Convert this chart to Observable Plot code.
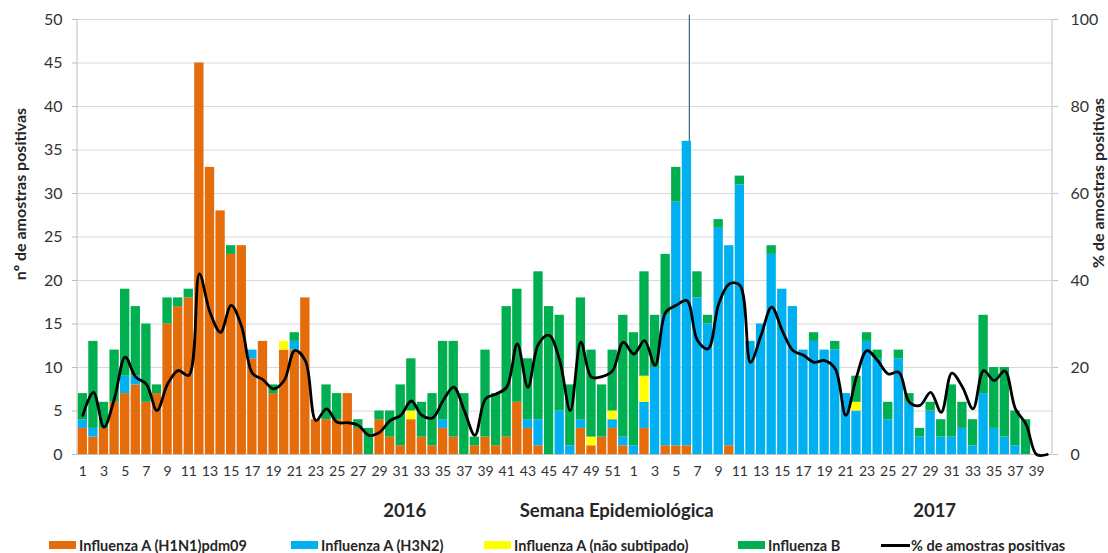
<!DOCTYPE html>
<html><head><meta charset="utf-8">
<script src="https://cdn.jsdelivr.net/npm/d3@7"></script>
<script src="https://cdn.jsdelivr.net/npm/@observablehq/plot@0.6"></script>
<style>
body{margin:0;background:#fff;font-family:Lato,"Open Sans",sans-serif;}
#wrap{position:relative;width:1108px;height:553px;overflow:hidden;}
#legend{position:absolute;left:0;top:535px;width:1108px;height:20px;font-weight:bold;font-size:14.5px;color:#262626;}
.item{position:absolute;top:0;display:flex;align-items:center;height:20px;white-space:nowrap;}
.sw{width:27px;height:8px;margin-right:3px;}
.ln{width:29px;height:3px;background:#000;margin-right:1px;}
</style></head>
<body><div id="wrap"><div id="chart"></div><div id="legend"></div></div>
<script>
// ---- categories ----
const weeks2016 = [1,2,3,4,5,6,7,8,9,10,11,12,13,14,15,16,17,18,19,20,21,22,23,24,25,26,27,28,29,30,31,32,33,34,35,36,37,38,39,40,41,42,43,44,45,46,47,48,49,50,51,52];
const weeks2017 = [1,2,3,4,5,6,7,8,9,10,11,12,13,14,15,16,17,18,19,20,21,22,23,24,25,26,27,28,29,30,31,32,33,34,35,36,37,38,39,40];

// ---- series (2016 wk1-52, then 2017 wk1-40) ----
const h1n1 = [3,2,3,6,7,8,6,7,15,17, 18,45,33,28,23,24,11,13,7,12, 12,18,4,4,4,7,3,0,4,2, 1,4,2,1,3,2,0,1,2,1, 2,6,3,1,0,0,0,3,1,2, 3,1,
  0,3,0,1,1,1,0,0,0,1, 0,0,0,0,0,0,0,0,0,0, 0,0,0,0,0,0,0,0,0,0, 0,0,0,0,0,0,0,0,0,0];
const h3n2 = [1,1,0,0,2,1,0,0,0,0, 0,0,0,0,0,0,1,0,0,0, 1,0,0,0,0,0,0,0,0,0, 0,0,0,0,1,0,0,0,0,0, 0,0,1,3,0,5,1,1,0,0, 1,1,
  1,3,10,15,28,35,18,15,26,23, 31,13,15,23,19,17,12,13,12,12, 7,5,13,11,4,11,6,2,5,2, 2,3,1,7,3,2,1,0,0,0];
const naoSub = [0,0,0,0,0,0,0,0,0,0, 0,0,0,0,0,0,0,0,0,1, 0,0,0,0,0,0,0,0,0,0, 0,1,0,0,0,0,0,0,0,0, 0,0,0,0,0,0,0,0,1,0, 1,0,
  0,3,0,0,0,0,0,0,0,0, 0,0,0,0,0,0,0,0,0,0, 0,1,0,0,0,0,0,0,0,0, 0,0,0,0,0,0,0,0,0,0];
const fluB = [3,10,3,6,10,8,9,1,3,1, 1,0,0,0,1,0,0,0,1,0, 1,0,0,4,3,0,1,3,1,3, 7,6,4,6,9,11,7,1,10,6, 15,13,7,17,17,11,7,14,10,6, 7,14,
  13,12,6,7,4,0,3,1,1,0, 1,0,0,1,0,0,0,1,0,1, 0,3,1,1,2,1,1,1,1,2, 6,3,3,9,7,8,4,4,0,0];
const pctPos = [9,14.3,6.3,13,22.4,17.8,16.2,10.1,16.2,19.3, 18.2,41.5,32.7,28.1,34.3,29.3,18.7,17.2,15.1,17, 23.9,21.6,7.8,10.5,7.4,7.3,6.7,4.4,5.1,7.8, 9,12.3,9,8.4,12.4,15.5,10.1,4.4,12.8,13.9, 15.5,25.4,15.5,25.4,27.4,21.6,10.1,25.8,17.8,17.9, 19.3,25.8,
  23.1,26.2,20.5,32.7,34.3,35.4,26.2,24.3,34.6,39.2, 38.9,21.2,27.4,33.9,28.5,23.9,22.8,21.2,21.6,19.7, 9,17.8,23.9,21.6,18.5,18.9,12,11.3,14.3,9.7, 18.7,15.5,10.5,19.3,17,19.2,10.5,7,0,0];

const seriesNames = ["Influenza A (H1N1)pdm09","Influenza A (H3N2)","Influenza A (não subtipado)","Influenza B"];
const seriesColors = ["#E46C0A","#00B0F0","#FFFF00","#00B050"];
const lineName = "% de amostras positivas";
const leftTitle = "nº de amostras positivas";
const leftTicks = [0,5,10,15,20,25,30,35,40,45,50];
const rightTicks = [0,20,40,60,80,100];
const yearLabels = [{text:"2016", at:"2016-31"},{text:"Semana Epidemiológica", at:"2016-51"},{text:"2017", at:"2017-29"}];
const markerRule = [{at:"2017-6", from:36, to:50.5}];

// ---- build tables ----
const cats = weeks2016.map(w => `2016-${w}`).concat(weeks2017.map(w => `2017-${w}`));
const table = cats.map((c, i) => ({cat:c, vals:[h1n1[i],h3n2[i],naoSub[i],fluB[i]], pct:pctPos[i]}));
const long = table.flatMap(r => seriesNames.map((s, k) => ({cat:r.cat, series:s, value:r.vals[k]})));
const oddCats = cats.filter(c => +c.split("-")[1] % 2 === 1);

const txt = "#333333";
const chart = Plot.plot({
  width:1108, height:525,
  marginLeft:77, marginRight:56, marginTop:19, marginBottom:71,
  style:{fontFamily:"Lato, 'Open Sans', sans-serif", background:"#fff"},
  x:{domain:cats, paddingInner:0.12, paddingOuter:0.06, axis:null},
  y:{domain:[0,50], axis:null},
  color:{domain:seriesNames, range:seriesColors},
  marks:[
    Plot.gridY(leftTicks, {stroke:"#d9d9d9", strokeOpacity:1}),
    Plot.barY(long, {x:"cat", y:"value", fill:"series", order:seriesNames}),
    Plot.ruleY([0], {stroke:"#bfbfbf"}),
    Plot.ruleX(markerRule, {x:"at", y1:"from", y2:"to", dx:2.5, stroke:"#4f6e8f", strokeWidth:1.3}),
    Plot.line(table, {x:"cat", y:d => d.pct / 2, curve:"catmull-rom", stroke:"#000", strokeWidth:2.8}),
    Plot.axisY(leftTicks, {anchor:"left", tickSize:5, tickPadding:10, stroke:"#bfbfbf", fill:txt, fontSize:16}),
    Plot.axisY(rightTicks.map(v => v / 2), {anchor:"right", tickSize:5, tickPadding:13, tickFormat:v => v * 2, stroke:"#bfbfbf", fill:txt, fontSize:16}),
    Plot.axisX(oddCats, {anchor:"bottom", tickSize:0, tickPadding:12, tickFormat:c => c.split("-")[1], fill:txt, fontSize:14}),
    Plot.text(yearLabels, {x:"at", text:"text", frameAnchor:"bottom", dx:4, dy:62, textAnchor:"middle", fontWeight:"bold", fontSize:18.5, fill:"#262626"}),
    Plot.text([leftTitle], {text:d => d, frameAnchor:"left", textAnchor:"middle", rotate:-90, dx:-57, dy:-43, fontWeight:"bold", fontSize:16, fill:"#262626"}),
    Plot.text([lineName], {text:d => d, frameAnchor:"right", textAnchor:"middle", rotate:-90, dx:46, dy:-54, fontWeight:"bold", fontSize:16, fill:"#262626"})
  ]
});
// vertical axis lines at the edges of the library's x range
const xr = chart.scale("x").range, yr = chart.scale("y").range;
d3.select(chart).append("g").selectAll("line").data(xr).join("line")
  .attr("x1", d => d).attr("x2", d => d).attr("y1", yr[0]).attr("y2", yr[1])
  .attr("stroke", "#bfbfbf");
document.getElementById("chart").appendChild(chart);

// ---- legend ----
const legendLeft = [49, 291, 484, 738, 881];
const legend = document.getElementById("legend");
seriesNames.concat([lineName]).forEach((name, k) => {
  const it = document.createElement("div");
  it.className = "item"; it.style.left = legendLeft[k] + "px";
  const sw = document.createElement("span");
  if (k < 4) { sw.className = "sw"; sw.style.background = seriesColors[k]; } else { sw.className = "ln"; }
  const t = document.createElement("span"); t.textContent = name;
  it.appendChild(sw); it.appendChild(t); legend.appendChild(it);
});
</script>
</body></html>
